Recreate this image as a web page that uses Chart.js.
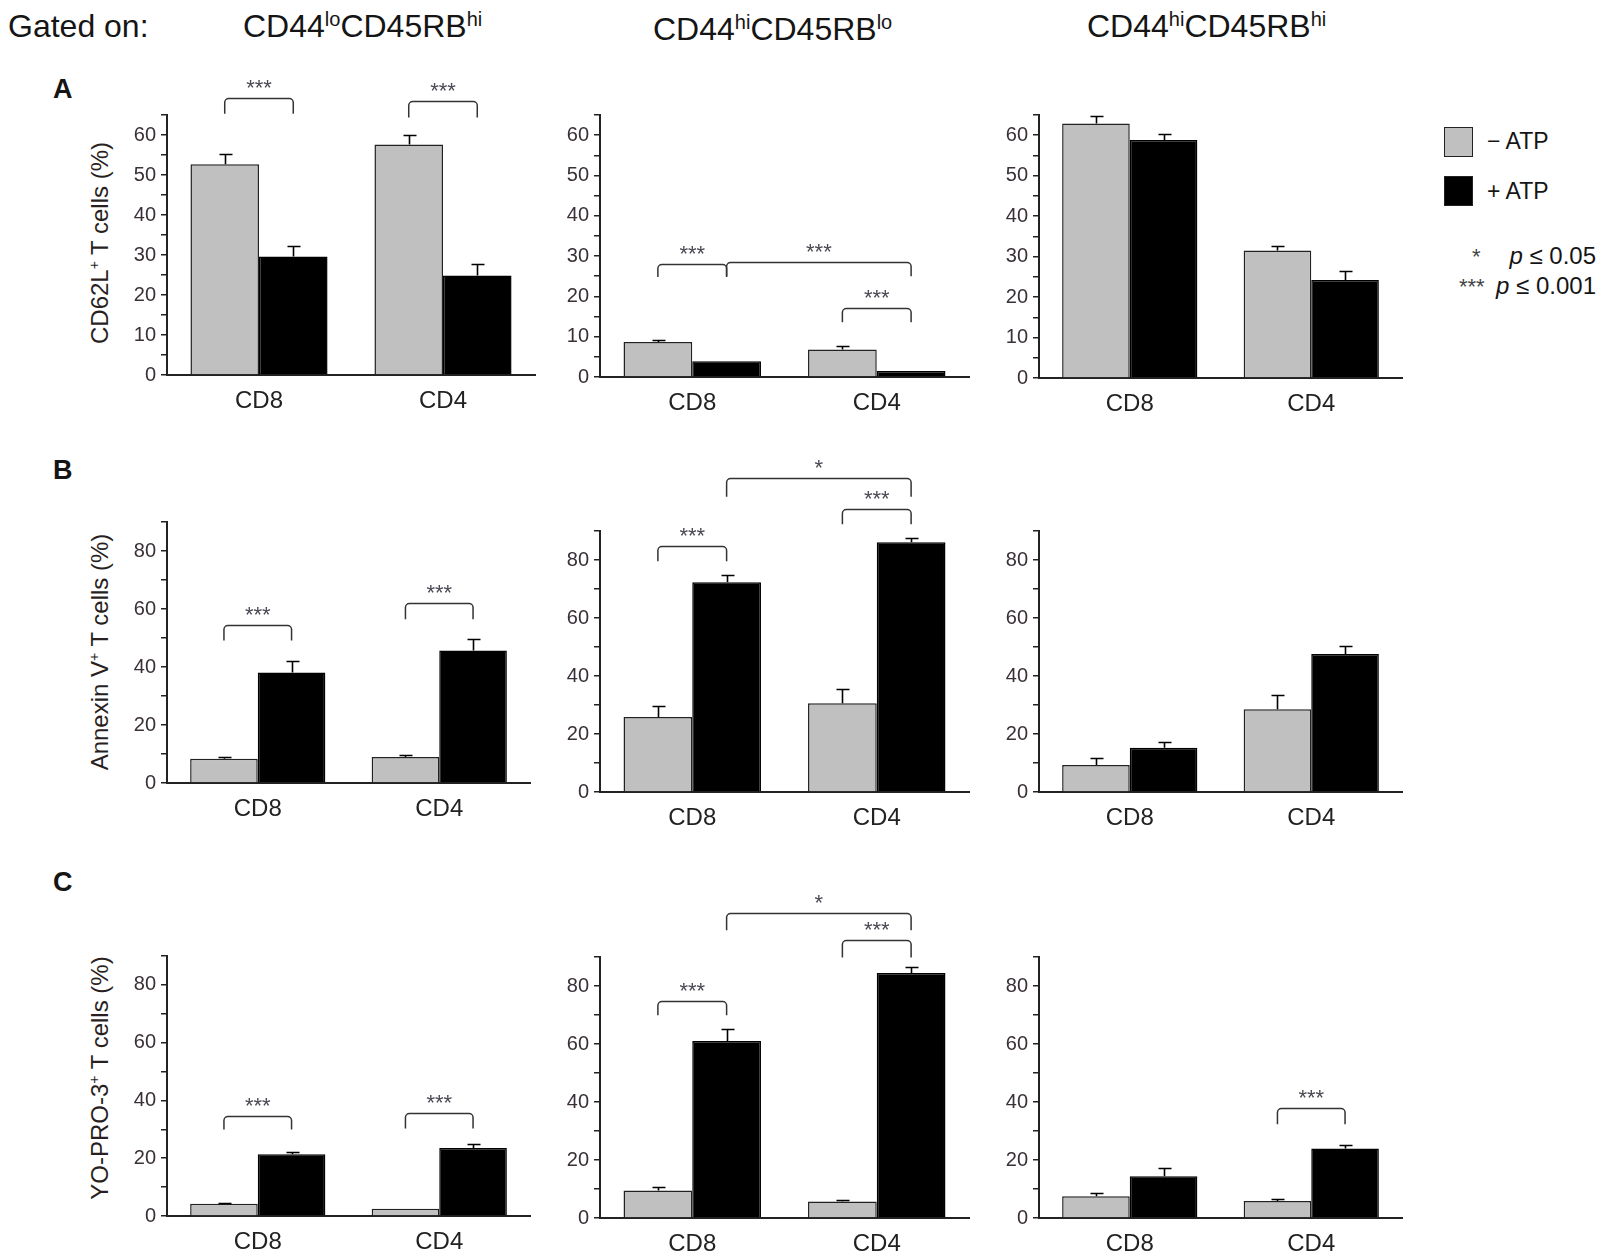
<!DOCTYPE html>
<html>
<head>
<meta charset="utf-8">
<script src="https://cdn.jsdelivr.net/npm/chart.js@4.4.0/dist/chart.umd.min.js"></script>
<style>
  body { margin: 0; background: #fff; width: 1607px; height: 1258px; position: relative; overflow: hidden;
         font-family: "Liberation Sans", Arial, sans-serif; color: #151515; }
  .t { position: absolute; white-space: nowrap; line-height: 1; }
  .hdr { font-size: 32px; }
  .hdr sup { font-size: 20px; vertical-align: 11px; line-height: 0; }
  .letter { font-size: 27px; font-weight: bold; }
  .ytitle { font-size: 24px; color: #2a1f1f; transform: translate(-50%, -50%) rotate(-90deg); }
  .ytitle sup { font-size: 14px; vertical-align: 9px; line-height: 0; }
  .box { position: absolute; width: 27px; height: 28px; border: 1.5px solid #222; }
  .leg { font-size: 23px; }
  .pv { font-size: 24px; }
  .star { font-size: 22px; color: #444; }
  canvas { position: absolute; }
</style>
</head>
<body>

<div class="t hdr" style="left:8px; top:10px;">Gated on:</div>
<div class="t hdr" style="left:243px; top:10px;">CD44<sup>lo</sup>CD45RB<sup>hi</sup></div>
<div class="t hdr" style="left:653px; top:13px;">CD44<sup>hi</sup>CD45RB<sup>lo</sup></div>
<div class="t hdr" style="left:1087px; top:10px;">CD44<sup>hi</sup>CD45RB<sup>hi</sup></div>

<div class="t letter" style="left:53px; top:76px;">A</div>
<div class="t letter" style="left:53px; top:457px;">B</div>
<div class="t letter" style="left:53px; top:869px;">C</div>

<div class="t ytitle" style="left:100px; top:243px;">CD62L<sup>+</sup> T cells (%)</div>
<div class="t ytitle" style="left:100px; top:652px;">Annexin V<sup>+</sup> T cells (%)</div>
<div class="t ytitle" style="left:100px; top:1078px;">YO-PRO-3<sup>+</sup> T cells (%)</div>

<div class="box" style="left:1444px; top:127px; background:#c0c0c0;"></div>
<div class="t leg" style="left:1487px; top:130px;">− ATP</div>
<div class="box" style="left:1444px; top:176px; background:#000;"></div>
<div class="t leg" style="left:1487px; top:180px;">+ ATP</div>

<div class="t star" style="left:1472px; top:246px;">*</div>
<div class="t pv" style="right:11px; top:244px;"><i>p</i> ≤ 0.05</div>
<div class="t star" style="left:1459px; top:276px;">***</div>
<div class="t pv" style="right:11px; top:274px;"><i>p</i> ≤ 0.001</div>

<script>
Chart.defaults.font.family = '"Liberation Sans", Arial, sans-serif';
Chart.defaults.color = '#333';

const groups = ['CD8', 'CD4'];
const series = ['− ATP', '+ ATP'];

// labelled y ticks
const yLabelsA = [0, 10, 20, 30, 40, 50, 60];
const yLabelsBC = [0, 20, 40, 60, 80];

// A - CD62L+ T cells (%)
const a1Minus = [52.7, 57.6];
const a1MinusErr = [2.6, 2.3];
const a1Plus = [29.6, 24.9];
const a1PlusErr = [2.6, 2.8];

const a2Minus = [8.7, 6.8];
const a2MinusErr = [0.4, 0.8];
const a2Plus = [3.9, 1.5];
const a2PlusErr = [0, 0];

const a3Minus = [62.9, 31.5];
const a3MinusErr = [1.9, 1.1];
const a3Plus = [58.8, 24.2];
const a3PlusErr = [1.5, 2.3];

// B - Annexin V+ T cells (%)
const b1Minus = [8.4, 9.0];
const b1MinusErr = [0.4, 0.5];
const b1Plus = [38.1, 45.7];
const b1PlusErr = [3.8, 4.0];

const b2Minus = [25.9, 30.6];
const b2MinusErr = [3.8, 5.0];
const b2Plus = [72.3, 86.1];
const b2PlusErr = [2.5, 1.5];

const b3Minus = [9.3, 28.5];
const b3MinusErr = [2.3, 4.8];
const b3Plus = [15.3, 47.6];
const b3PlusErr = [2.1, 2.8];

// C - YO-PRO-3+ T cells (%)
const c1Minus = [4.2, 2.5];
const c1MinusErr = [0.2, 0];
const c1Plus = [21.4, 23.5];
const c1PlusErr = [0.9, 1.5];

const c2Minus = [9.5, 5.7];
const c2MinusErr = [1.1, 0.4];
const c2Plus = [61.0, 84.5];
const c2PlusErr = [4.3, 1.9];

const c3Minus = [7.5, 5.9];
const c3MinusErr = [1.2, 0.5];
const c3Plus = [14.4, 24.0];
const c3PlusErr = [2.7, 1.2];

// significance brackets: [fromGroup, fromSeries, toGroup, toSeries, line level, leg end, label]
const a1Sig = [[0, 0, 0, 1, 69.2, 65.3, '***'], [1, 0, 1, 1, 68.5, 64.4, '***']];
const a2Sig = [[0, 0, 0, 1, 28.1, 24.8, '***'], [0, 1, 1, 1, 28.5, 25.0, '***'], [1, 0, 1, 1, 17.2, 13.6, '***']];
const a3Sig = [];
const b1Sig = [[0, 0, 0, 1, 54.6, 49.1, '***'], [1, 0, 1, 1, 62.1, 56.5, '***']];
const b2Sig = [[0, 0, 0, 1, 85.0, 79.6, '***'], [1, 0, 1, 1, 97.7, 92.3, '***'], [0, 1, 1, 1, 108.3, 101.8, '*']];
const b3Sig = [];
const c1Sig = [[0, 0, 0, 1, 34.7, 29.9, '***'], [1, 0, 1, 1, 35.6, 30.3, '***']];
const c2Sig = [[0, 0, 0, 1, 74.8, 69.9, '***'], [1, 0, 1, 1, 95.7, 89.8, '***'], [0, 1, 1, 1, 105.2, 99.2, '*']];
const c3Sig = [[1, 0, 1, 1, 38.1, 32.3, '***']];

// error bars + brackets
const annotate = {
  id: 'annotate',
  afterDatasetsDraw(chart, args, opts) {
    const ctx = chart.ctx, y = chart.scales.y;
    ctx.save();
    ctx.strokeStyle = '#000';
    ctx.lineWidth = 1.6;
    chart.data.datasets.forEach((ds, di) => {
      chart.getDatasetMeta(di).data.forEach((bar, i) => {
        const e = ds.errors[i];
        if (!e) return;
        const top = Math.round(y.getPixelForValue(ds.data[i] + e)) + 0.5;
        const x = Math.round(bar.x) + 0.5;
        ctx.beginPath();
        ctx.moveTo(x, bar.y);
        ctx.lineTo(x, top);
        ctx.moveTo(x - 6, top);
        ctx.lineTo(x + 7, top);
        ctx.stroke();
      });
    });

    ctx.strokeStyle = '#333';
    ctx.lineWidth = 1.5;
    ctx.fillStyle = '#4a4a55';
    ctx.font = '22px "Liberation Sans", Arial, sans-serif';
    ctx.textAlign = 'center';
    ctx.textBaseline = 'alphabetic';
    (opts.brackets || []).forEach(b => {
      const x1 = chart.getDatasetMeta(b[1]).data[b[0]].x;
      const x2 = chart.getDatasetMeta(b[3]).data[b[2]].x;
      const yl = Math.round(y.getPixelForValue(b[4])) + 0.5;
      const ye = y.getPixelForValue(b[5]);
      const r = 4;
      ctx.beginPath();
      ctx.moveTo(x1, ye);
      ctx.lineTo(x1, yl + r);
      ctx.arcTo(x1, yl, x1 + r, yl, r);
      ctx.lineTo(x2 - r, yl);
      ctx.arcTo(x2, yl, x2, yl + r, r);
      ctx.lineTo(x2, ye);
      ctx.stroke();
      ctx.fillText(b[6], (x1 + x2) / 2, yl - 16 + 12);
    });
    ctx.restore();
  }
};

const panels = [
  { frame: [167, 115, 535, 375], max: 65, step: 5, labels: yLabelsA, d: [a1Minus, a1MinusErr, a1Plus, a1PlusErr], sig: a1Sig },
  { frame: [600, 115, 969, 377], max: 65, step: 5, labels: yLabelsA, d: [a2Minus, a2MinusErr, a2Plus, a2PlusErr], sig: a2Sig },
  { frame: [1039, 115, 1402, 378], max: 65, step: 5, labels: yLabelsA, d: [a3Minus, a3MinusErr, a3Plus, a3PlusErr], sig: a3Sig },
  { frame: [167, 522, 530, 783], max: 90, step: 10, labels: yLabelsBC, d: [b1Minus, b1MinusErr, b1Plus, b1PlusErr], sig: b1Sig },
  { frame: [600, 531, 969, 792], max: 90, step: 10, labels: yLabelsBC, d: [b2Minus, b2MinusErr, b2Plus, b2PlusErr], sig: b2Sig },
  { frame: [1039, 531, 1402, 792], max: 90, step: 10, labels: yLabelsBC, d: [b3Minus, b3MinusErr, b3Plus, b3PlusErr], sig: b3Sig },
  { frame: [167, 956, 530, 1216], max: 90, step: 10, labels: yLabelsBC, d: [c1Minus, c1MinusErr, c1Plus, c1PlusErr], sig: c1Sig },
  { frame: [600, 957, 969, 1218], max: 90, step: 10, labels: yLabelsBC, d: [c2Minus, c2MinusErr, c2Plus, c2PlusErr], sig: c2Sig },
  { frame: [1039, 957, 1402, 1218], max: 90, step: 10, labels: yLabelsBC, d: [c3Minus, c3MinusErr, c3Plus, c3PlusErr], sig: c3Sig }
];

const Y_W = 70, X_H = 45, PAD_T = 100, PAD_R = 12;

panels.forEach(p => {
  const [L, T, R, B] = p.frame;
  const canvas = document.createElement('canvas');
  canvas.width = Y_W + (R - L) + PAD_R;
  canvas.height = PAD_T + (B - T) + X_H;
  canvas.style.left = (L - Y_W) + 'px';
  canvas.style.top = (T - PAD_T) + 'px';
  document.body.appendChild(canvas);

  const chart = new Chart(canvas, {
    type: 'bar',
    data: {
      labels: groups,
      datasets: [
        { label: series[0], data: p.d[0], errors: p.d[1], backgroundColor: '#c0c0c0', borderColor: '#222', borderWidth: 1.5 },
        { label: series[1], data: p.d[2], errors: p.d[3], backgroundColor: '#000', borderColor: '#000', borderWidth: 1.5 }
      ]
    },
    options: {
      responsive: false,
      animation: false,
      devicePixelRatio: 1,
      events: [],
      layout: { padding: { top: PAD_T, right: PAD_R, left: 0, bottom: 0 } },
      datasets: { bar: { categoryPercentage: 0.745, barPercentage: 1.0 } },
      plugins: { legend: { display: false }, tooltip: { enabled: false }, annotate: { brackets: p.sig } },
      scales: {
        x: {
          ticks: { font: { size: 24 }, color: '#222', padding: 12 },
          grid: { display: false, drawTicks: false },
          border: { display: true, color: '#222', width: 2 },
          afterFit: s => { s.height = X_H; }
        },
        y: {
          min: 0,
          max: p.max,
          ticks: {
            stepSize: p.step, autoSkip: false, padding: 5, font: { size: 20 }, color: '#3a3038',
            callback: v => p.labels.includes(v) ? v : ''
          },
          grid: { drawOnChartArea: false, drawTicks: true, tickLength: 6, color: '#222', lineWidth: 1.5 },
          border: { display: true, color: '#222', width: 2 },
          afterFit: s => { s.width = Y_W; }
        }
      }
    },
    plugins: [annotate]
  });

  // keep the plot box where the reference has it
  const ca = chart.chartArea;
  canvas.style.left = (L - ca.left) + 'px';
  canvas.style.top = (T - ca.top) + 'px';
});
</script>
</body>
</html>
